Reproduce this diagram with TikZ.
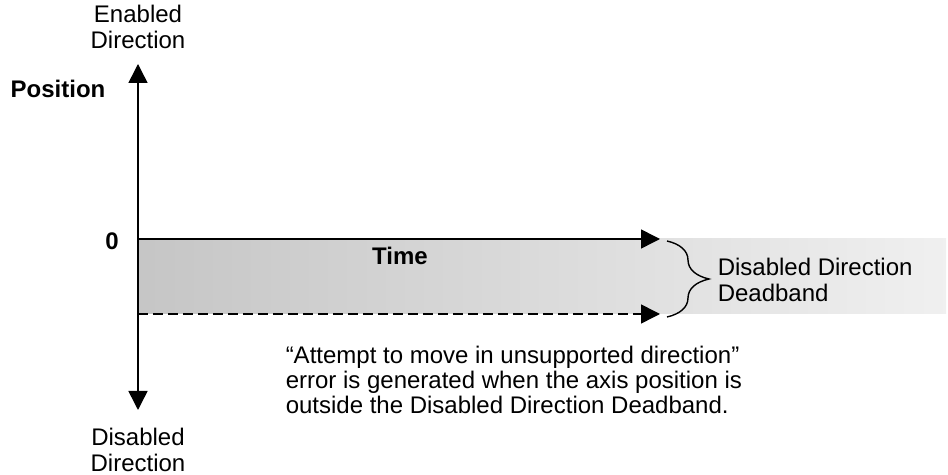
\documentclass[tikz,border=0pt]{standalone}
\usepackage{fontspec}
\setmainfont{Liberation Sans}
\usetikzlibrary{arrows.meta,decorations.pathreplacing}

\begin{document}
\begin{tikzpicture}[>={Triangle[length=9.5pt,width=9.5pt]},x=0.5pt,y=-0.5pt,font=\fontsize{12}{13}\selectfont,line width=0.75pt,inner sep=0pt]
		\useasboundingbox (0,0) rectangle (948,475);
		\coordinate (O) at (138,239);
		\coordinate (top) at (138,64);
		\coordinate (bot) at (138,410);
		\coordinate (tend) at (660,239);
		\coordinate (dstart) at (138,314);
		\coordinate (dend) at (660,314);
		\coordinate (bandend) at (946,314);
		\shade[left color=gray!45,right color=gray!12] (O) rectangle (bandend);
		\draw[->] (O)--(top);
		\draw[->] (O)--(bot);
		\draw[->] (O)--(tend);
		\draw[->,dash pattern=on 5pt off 2.5pt] (dstart)--(dend);
		\draw[decorate,decoration={brace,amplitude=21pt},line width=0.7pt] (667,241)--(667,317);
		\node[align=center] (en) at (138,27) {Enabled\\Direction};
		\node[font=\fontsize{12}{13}\selectfont\bfseries] (pos) at (58,89) {Position};
		\node[font=\fontsize{12}{13}\selectfont\bfseries] (zero) at (112,241) {0};
		\node[font=\fontsize{12}{13}\selectfont\bfseries] (time) at (400,256) {Time};
		\node[anchor=west,align=left] (band) at (717,280) {Disabled Direction\\Deadband};
		\node[anchor=west,align=left,font=\fontsize{12}{12.5}\selectfont] (err) at (285,380) {``Attempt to move in unsupported direction''\\error is generated when the axis position is\\outside the Disabled Direction Deadband.};
		\node[align=center] (dis) at (138,450) {Disabled\\Direction};
	\end{tikzpicture}
\end{document}
